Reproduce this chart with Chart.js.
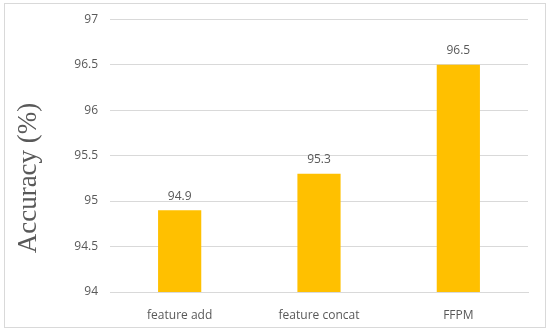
<!DOCTYPE html>
<html>
<head>
<meta charset="utf-8">
<script src="https://cdn.jsdelivr.net/npm/chart.js@4"></script>
<style>
  html, body { margin: 0; padding: 0; background: #fff; }
  #wrap { position: relative; width: 550px; height: 331px; }
  #frame { position: absolute; left: 4px; top: 3px; width: 540px; height: 323px; border: 1px solid #d9d9d9; pointer-events: none; }
</style>
</head>
<body>
<div id="wrap">
  <canvas id="chart" width="550" height="331"></canvas>
  <div id="frame"></div>
</div>
<script>
  const categories = ['feature add', 'feature concat', 'FFPM'];
  const accuracy = [94.9, 95.3, 96.5];
  const yMin = 94;
  const yMax = 97;
  const yStep = 0.5;
  const yTitle = 'Accuracy (%)';

  const textColor = '#595959';
  const tickFont = { family: 'Open Sans, Liberation Sans, sans-serif', size: 12 };

  // value labels above each bar
  const valueLabels = {
    id: 'valueLabels',
    afterDatasetsDraw(chart) {
      const ctx = chart.ctx;
      const meta = chart.getDatasetMeta(0);
      ctx.save();
      ctx.font = '12px ' + tickFont.family;
      ctx.fillStyle = textColor;
      ctx.textAlign = 'center';
      ctx.textBaseline = 'bottom';
      meta.data.forEach((bar, i) => {
        ctx.fillText(String(accuracy[i]), bar.x, bar.y - 8);
      });
      ctx.restore();
    }
  };

  // y title, a bit below the plot centre like the original
  const sideTitle = {
    id: 'sideTitle',
    afterDraw(chart) {
      const ctx = chart.ctx;
      ctx.save();
      ctx.translate(29, 178);
      ctx.rotate(-Math.PI / 2);
      ctx.font = '27px Liberation Serif, Times New Roman, serif';
      ctx.fillStyle = textColor;
      ctx.textAlign = 'center';
      ctx.textBaseline = 'middle';
      ctx.fillText(yTitle, 0, 0);
      ctx.restore();
    }
  };

  new Chart(document.getElementById('chart'), {
    type: 'bar',
    data: {
      labels: categories,
      datasets: [{
        data: accuracy,
        backgroundColor: '#ffc000',
        borderWidth: 0,
        barPercentage: 0.62,
        categoryPercentage: 0.5
      }]
    },
    options: {
      responsive: false,
      animation: false,
      layout: { padding: { top: 19, right: 22, left: 0, bottom: 0 } },
      plugins: {
        legend: { display: false },
        tooltip: { enabled: false }
      },
      scales: {
        x: {
          grid: { display: false },
          border: { color: '#d9d9d9', width: 1 },
          ticks: { color: textColor, font: tickFont, padding: 8, maxRotation: 0 },
          afterFit(scale) { scale.height = 39; }
        },
        y: {
          min: yMin,
          max: yMax,
          grid: { color: '#d9d9d9', drawTicks: false },
          border: { display: false },
          ticks: {
            stepSize: yStep,
            color: textColor,
            font: tickFont,
            padding: 12,
            callback: v => String(Math.round(v * 10) / 10)
          },
          afterFit(scale) { scale.width = 110; }
        }
      }
    },
    plugins: [valueLabels, sideTitle]
  });
</script>
</body>
</html>
